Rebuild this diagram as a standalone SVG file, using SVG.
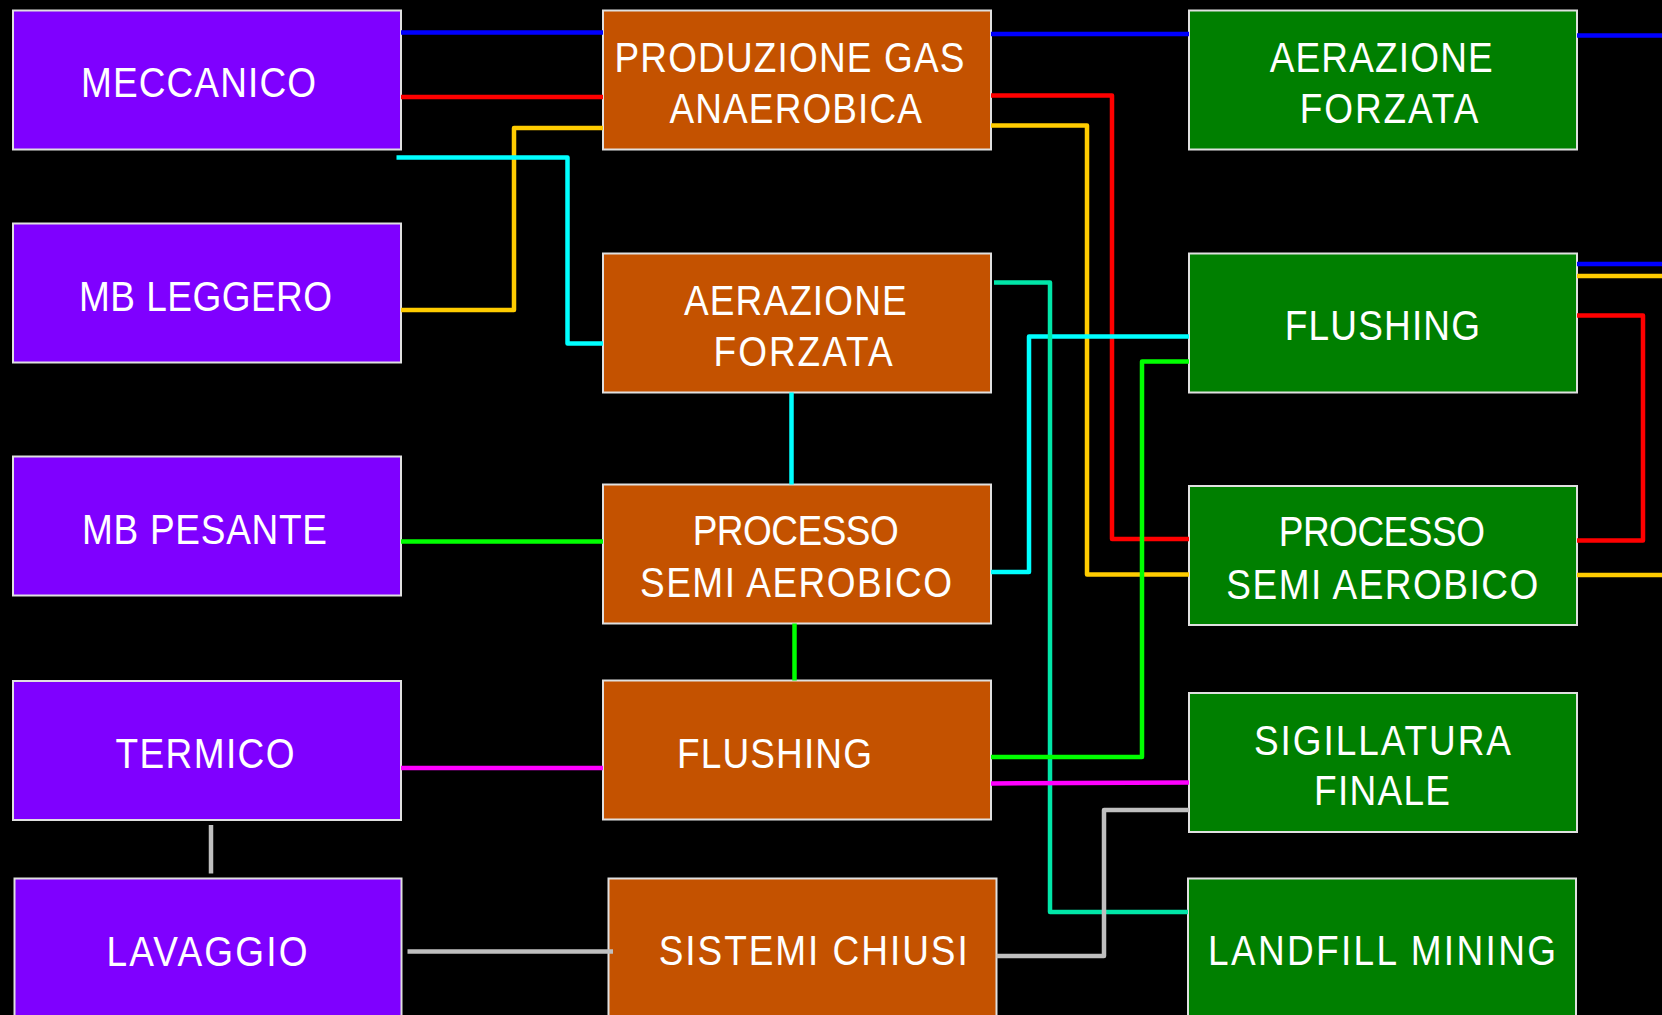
<svg xmlns="http://www.w3.org/2000/svg" width="1662" height="1015" viewBox="0 0 1662 1015">
<style>
.bg{fill:#000}
.p{fill:#7F00FF;stroke:#E0E0E0;stroke-width:2}
.o{fill:#C45200;stroke:#E0E0E0;stroke-width:2}
.g{fill:#007F00;stroke:#E0E0E0;stroke-width:2}
text{fill:#fff;font-family:"Liberation Sans",Arial,sans-serif;font-size:42.5px}
.c path{fill:none;stroke-width:4.5;stroke-linejoin:round}
</style>
<rect class="bg" x="0" y="0" width="1662" height="1015"/>
<g id="meccanico"><rect class="p" x="13" y="10.5" width="388" height="139"/><text transform="translate(81,97.3) scale(0.87,1)" textLength="270.1" lengthAdjust="spacing">MECCANICO</text></g>
<g id="mb-leggero"><rect class="p" x="13" y="223.5" width="388" height="139"/><text transform="translate(79,310.5) scale(0.87,1)" textLength="290.8" lengthAdjust="spacing">MB LEGGERO</text></g>
<g id="mb-pesante"><rect class="p" x="13" y="456.5" width="388" height="139"/><text transform="translate(82,544) scale(0.87,1)" textLength="281.6" lengthAdjust="spacing">MB PESANTE</text></g>
<g id="termico"><rect class="p" x="13" y="681" width="388" height="139"/><text transform="translate(115.5,768.3) scale(0.87,1)" textLength="205.7" lengthAdjust="spacing">TERMICO</text></g>
<g id="lavaggio"><rect class="p" x="14.5" y="878.5" width="387" height="160"/><text transform="translate(106.5,965.5) scale(0.87,1)" textLength="231" lengthAdjust="spacing">LAVAGGIO</text></g>

<g id="produzione-gas"><rect class="o" x="603" y="10.5" width="388" height="139"/><text transform="translate(614.5,72.3) scale(0.87,1)" textLength="402.3" lengthAdjust="spacing">PRODUZIONE GAS</text><text transform="translate(669.5,123.3) scale(0.87,1)" textLength="290.2" lengthAdjust="spacing">ANAEROBICA</text></g>
<g id="aerazione-forzata-1"><rect class="o" x="603" y="253.5" width="388" height="139"/><text transform="translate(684,315) scale(0.87,1)" textLength="255.9" lengthAdjust="spacing">AERAZIONE</text><text transform="translate(713.6,366) scale(0.87,1)" textLength="205.7" lengthAdjust="spacing">FORZATA</text></g>
<g id="processo-semi-aerobico-1"><rect class="o" x="603" y="484.5" width="388" height="139"/><text transform="translate(692.7,545) scale(0.87,1)" textLength="236.8" lengthAdjust="spacing">PROCESSO</text><text transform="translate(640,596.5) scale(0.87,1)" textLength="358.6" lengthAdjust="spacing">SEMI AEROBICO</text></g>
<g id="flushing-1"><rect class="o" x="603" y="680.5" width="388" height="139"/><text transform="translate(677,767.6) scale(0.87,1)" textLength="224.1" lengthAdjust="spacing">FLUSHING</text></g>
<g id="sistemi-chiusi"><rect class="o" x="608.5" y="878.5" width="388" height="160"/><text transform="translate(658.7,965.3) scale(0.87,1)" textLength="355.2" lengthAdjust="spacing">SISTEMI CHIUSI</text></g>

<g id="aerazione-forzata-2"><rect class="g" x="1189" y="10.5" width="388" height="139"/><text transform="translate(1269.7,72) scale(0.87,1)" textLength="256.3" lengthAdjust="spacing">AERAZIONE</text><text transform="translate(1299.7,123.3) scale(0.87,1)" textLength="205.3" lengthAdjust="spacing">FORZATA</text></g>
<g id="flushing-2"><rect class="g" x="1189" y="253.5" width="388" height="139"/><text transform="translate(1284.7,340) scale(0.87,1)" textLength="224.5" lengthAdjust="spacing">FLUSHING</text></g>
<g id="processo-semi-aerobico-2"><rect class="g" x="1189" y="486" width="388" height="139"/><text transform="translate(1278.7,546.4) scale(0.87,1)" textLength="237.1" lengthAdjust="spacing">PROCESSO</text><text transform="translate(1226.3,599) scale(0.87,1)" textLength="358.6" lengthAdjust="spacing">SEMI AEROBICO</text></g>
<g id="sigillatura-finale"><rect class="g" x="1189" y="693" width="388" height="139"/><text transform="translate(1254,754.7) scale(0.87,1)" textLength="295.4" lengthAdjust="spacing">SIGILLATURA</text><text transform="translate(1314,805) scale(0.87,1)" textLength="156.3" lengthAdjust="spacing">FINALE</text></g>
<g id="landfill-mining"><rect class="g" x="1188" y="878.5" width="388" height="160"/><text transform="translate(1208,965.3) scale(0.87,1)" textLength="400" lengthAdjust="spacing">LANDFILL MINING</text></g>

<g id="connectors" class="c">
<path stroke="#0000FF" d="M401,32.5H603M991,34H1189M1577,35.5H1662M1577,264H1662"/>
<path stroke="#FF0000" d="M401,97H603"/>
<path stroke="#FF0000" d="M991,95.5H1112V539H1189"/>
<path stroke="#FF0000" d="M1577,315.5H1643V540.5H1577"/>
<path stroke="#FFCC00" d="M401,310H514V128H603"/>
<path stroke="#FFCC00" d="M991,125.5H1087V574.5H1189"/>
<path stroke="#FFCC00" d="M1577,276H1662M1577,575H1662"/>
<path stroke="#00FFFF" d="M396.5,157.5H567.5V343.5H603"/>
<path stroke="#00FFFF" d="M791.5,392.5V484.5"/>
<path stroke="#00FFFF" d="M991,572H1029V336.5H1189"/>
<path stroke="#00E6A8" d="M994,282.5H1050V912H1188"/>
<path stroke="#00FF00" d="M401,541.5H603"/>
<path stroke="#00FF00" d="M794.5,623.5V680.5"/>
<path stroke="#00FF00" d="M991,757H1142V361.5H1189"/>
<path stroke="#FF00FF" d="M401,768H603"/>
<path stroke="#FF00FF" d="M991,783.5L1189,782.5"/>
<path stroke="#BFBFBF" d="M211,825V873.5"/>
<path stroke="#BFBFBF" d="M407.5,951.5H613"/>
<path stroke="#BFBFBF" d="M996.5,956H1104V810H1189"/>
</g>
</svg>
